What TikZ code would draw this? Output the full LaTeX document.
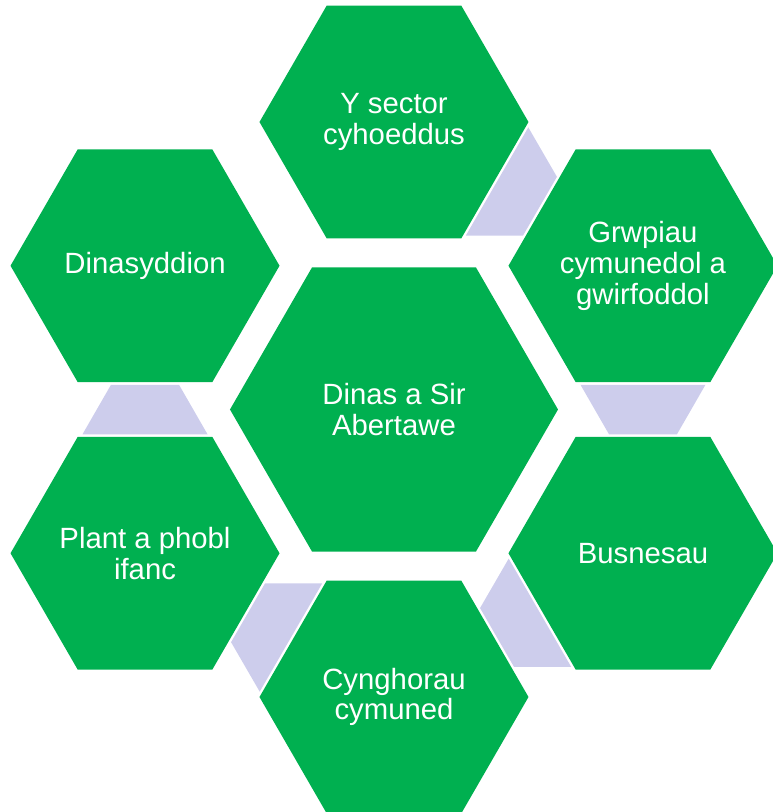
\documentclass[tikz,border=0pt]{standalone}
\usepackage{fontspec}
\setmainfont{Liberation Sans}
\usetikzlibrary{shapes.geometric,calc}
\definecolor{hexgreen}{RGB}{0,176,80}
\definecolor{linklilac}{RGB}{205,205,236}
\tikzset{
	hex/.style={regular polygon,regular polygon sides=6,fill=hexgreen,inner sep=-30pt,outer sep=0pt,
		minimum size=269pt,text=white,align=center,font=\fontsize{29.3}{30.8}\selectfont},
	link/.style={fill=linklilac}
}
\begin{document}
\begin{tikzpicture}[x=1pt,y=1pt]
	\useasboundingbox (-394,-402.5) rectangle (379,409.5);
	\clip (-394,-402.5) rectangle (379,409.5);
	\node[hex,minimum size=328pt] (dinas) at (0,0) {Dinas a Sir\\Abertawe};
	\node[hex] (sector) at (90:287.5) {Y sector\\cyhoeddus};
	\node[hex] (grwpiau) at (30:287.5) {Grwpiau\\cymunedol a\\gwirfoddol};
	\node[hex] (busnes) at (-30:287.5) {Busnesau};
	\node[hex] (cymuned) at (-90:287.5) {Cynghorau\\cymuned};
	\node[hex] (plant) at (-150:287.5) {Plant a phobl\\ifanc};
	\node[hex] (dinasydd) at (150:287.5) {Dinasyddion};
	% lilac links between neighbouring hexagons
	\foreach \a/\b in {sector/grwpiau,grwpiau/busnes,busnes/cymuned,cymuned/plant,plant/dinasydd}{
		\coordinate (p) at ($(\a.center)!119pt!(\b.center)$);
		\coordinate (q) at ($(\a.center)!168.5pt!(\b.center)$);
		\fill[link] ($(p)!62.5pt!90:(\b.center)$) -- ($(p)!62.5pt!-90:(\b.center)$) -- ($(q)!34pt!-90:(\b.center)$) -- ($(q)!34pt!90:(\b.center)$) -- cycle;
	}
\end{tikzpicture}
\end{document}
